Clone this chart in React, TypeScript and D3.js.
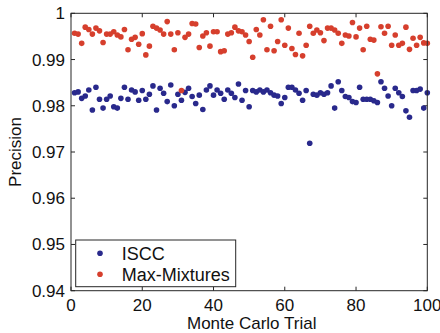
import React from "react";
import * as d3 from "d3";

const trials: number[] = Array.from({ length: 100 }, (_, i) => i + 1);

const isccValues: number[] = [
  0.9828, 0.983, 0.9816, 0.9821, 0.9834, 0.9791, 0.984, 0.9814, 0.9795, 0.9814,
  0.9821, 0.9798, 0.9795, 0.9816, 0.984, 0.9814, 0.9834, 0.983, 0.9812, 0.9833,
  0.9814, 0.9825, 0.9843, 0.9791, 0.9838, 0.9827, 0.9809, 0.9845, 0.98, 0.9825,
  0.9812, 0.9829, 0.9838, 0.982, 0.9805, 0.9823, 0.9792, 0.9834, 0.9843, 0.9823,
  0.9834, 0.9827, 0.9814, 0.9834, 0.9827, 0.9818, 0.9847, 0.9812, 0.9833, 0.9798,
  0.9833, 0.983, 0.9834, 0.983, 0.9834, 0.9828, 0.9823, 0.9821, 0.9805, 0.9818,
  0.984, 0.984, 0.9834, 0.9827, 0.9812, 0.9833, 0.9719, 0.9825, 0.9823, 0.9828,
  0.9825, 0.9828, 0.9843, 0.9795, 0.9852, 0.9833, 0.982, 0.9818, 0.9809, 0.9807,
  0.984, 0.9814, 0.9814, 0.9814, 0.9811, 0.9807, 0.9852, 0.9838, 0.9821, 0.98,
  0.9838, 0.9828, 0.982, 0.9789, 0.9775, 0.9833, 0.9833, 0.9836, 0.9795, 0.9828,
];

const maxMixValues: number[] = [
  0.9957, 0.9955, 0.9935, 0.997, 0.9965, 0.9955, 0.9968, 0.9962, 0.9937, 0.9955,
  0.9955, 0.996, 0.9953, 0.9949, 0.9965, 0.9921, 0.9944, 0.9948, 0.9933, 0.9956,
  0.991, 0.9929, 0.9972, 0.9968, 0.9964, 0.9955, 0.9982, 0.9955, 0.9921, 0.9958,
  0.9833, 0.9948, 0.9955, 0.9978, 0.9977, 0.9926, 0.9951, 0.9958, 0.9929, 0.996,
  0.996, 0.9917, 0.9919, 0.9955, 0.9958, 0.997, 0.9962, 0.996, 0.9953, 0.9939,
  0.9905, 0.9965, 0.9953, 0.9986, 0.9921, 0.9972, 0.9919, 0.9939, 0.9986, 0.9931,
  0.9968, 0.9924, 0.9911, 0.9957, 0.9908, 0.9931, 0.9972, 0.9957, 0.9964, 0.9958,
  0.9941, 0.9968, 0.9968, 0.9964, 0.9957, 0.9935, 0.9953, 0.9951, 0.998, 0.9949,
  0.9968, 0.9921, 0.9972, 0.9944, 0.9942, 0.9869, 0.9971, 0.9957, 0.9972, 0.9931,
  0.9953, 0.9931, 0.9935, 0.997, 0.9922, 0.9946, 0.9931, 0.9948, 0.9936, 0.9935,
];

const xTicks: number[] = [0, 20, 40, 60, 80, 100];
const yTicks: number[] = [0.94, 0.95, 0.96, 0.97, 0.98, 0.99, 1];
const yTickLabels: string[] = ["0.94", "0.95", "0.96", "0.97", "0.98", "0.99", "1"];
const seriesNames: string[] = ["ISCC", "Max-Mixtures"];

const BLUE = "#29298c";
const RED = "#d63f2d";
const AXIS = "#262626";
const FONT = "'Liberation Sans', Arial, Helvetica, sans-serif";

export default function App() {
  const W = 440;
  const H = 333;
  const left = 71, right = 427.3, top = 13.3, bottom = 290.7;
  const x = d3.scaleLinear().domain([0, 100]).range([left, right]);
  const y = d3.scaleLinear().domain([0.94, 1]).range([bottom, top]);
  const tick = 4;
  const fs = 17;
  const r = 2.8;

  const series = [
    { name: seriesNames[0], values: isccValues, color: BLUE },
    { name: seriesNames[1], values: maxMixValues, color: RED },
  ];

  const legX0 = 75.7, legY0 = 240, legW = 160, legH = 46.7;

  return (
    <svg
      width={W}
      height={H}
      style={{ position: "absolute", left: 0, top: 0, background: "#fff" }}
      fontFamily={FONT}
    >
      <rect x={0} y={0} width={W} height={H} fill="#fff" />
      {xTicks.map((t) => (
        <g key={"xt" + t}>
          <line x1={x(t)} x2={x(t)} y1={bottom} y2={bottom - tick} stroke={AXIS} strokeWidth={1} />
          <line x1={x(t)} x2={x(t)} y1={top} y2={top + tick} stroke={AXIS} strokeWidth={1} />
          <text x={x(t)} y={311} textAnchor="middle" fontSize={fs} fill="#111">
            {t}
          </text>
        </g>
      ))}
      {yTicks.map((t, i) => (
        <g key={"yt" + t}>
          <line x1={left} x2={left + tick} y1={y(t)} y2={y(t)} stroke={AXIS} strokeWidth={1} />
          <line x1={right} x2={right - tick} y1={y(t)} y2={y(t)} stroke={AXIS} strokeWidth={1} />
          <text x={65} y={y(t) + 6} textAnchor="end" fontSize={fs} fill="#111">
            {yTickLabels[i]}
          </text>
        </g>
      ))}
      {series.map((s) => (
        <g key={s.name}>
          {s.values.map((v, i) => (
            <circle key={i} cx={x(trials[i])} cy={y(v)} r={r} fill={s.color} />
          ))}
        </g>
      ))}
      <rect
        x={left}
        y={top}
        width={right - left}
        height={bottom - top}
        fill="none"
        stroke={AXIS}
        strokeWidth={1}
      />
      <text x={251.7} y={328.5} textAnchor="middle" fontSize={fs} fill="#111">
        Monte Carlo Trial
      </text>
      <text
        transform={`translate(20.5, ${(top + bottom) / 2}) rotate(-90)`}
        textAnchor="middle"
        fontSize={fs}
        fill="#111"
      >
        Precision
      </text>
      <rect x={legX0} y={legY0} width={legW} height={legH} fill="#fff" stroke={AXIS} strokeWidth={1} />
      {series.map((s, i) => (
        <g key={"leg" + s.name}>
          <circle cx={100} cy={253.3 + i * 21} r={r} fill={s.color} />
          <text x={121.7} y={253.3 + i * 21 + 6.3} fontSize={18} fill="#111">
            {s.name}
          </text>
        </g>
      ))}
    </svg>
  );
}
